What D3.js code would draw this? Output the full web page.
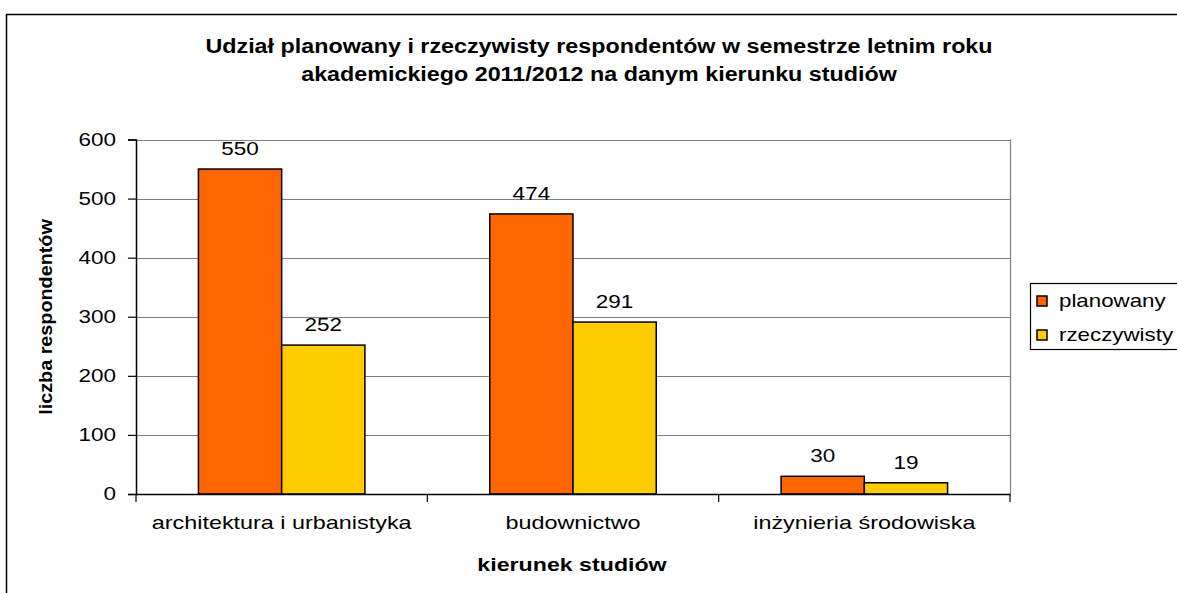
<!DOCTYPE html>
<html>
<head>
<meta charset="utf-8">
<script src="https://d3js.org/d3.v7.min.js"></script>
<style>
  body { margin: 0; background: #fff; }
  text { font-family: Arial, "Liberation Sans", sans-serif; fill: #000; }
  .bold { font-weight: bold; }
</style>
</head>
<body>
<div id="chart"></div>
<script>
// data
var categories = ["architektura i urbanistyka", "budownictwo", "inżynieria środowiska"];
var seriesNames = ["planowany", "rzeczywisty"];
var planowany = [550, 474, 30];
var rzeczywisty = [252, 291, 19];
var yTicks = [0, 100, 200, 300, 400, 500, 600];
var titleLines = ["Udział planowany i rzeczywisty respondentów w semestrze letnim roku",
  "akademickiego 2011/2012 na danym kierunku studiów"];
var xTitle = "kierunek studiów";
var yTitle = "liczba respondentów";

var colors = ["#ff6600", "#ffcc00"];
var W = 1177, H = 593;
var plot = { left: 136, right: 1010, top: 139.5, bottom: 494 };
var sx = 1.25; // text in the picture is drawn wider than normal

var svg = d3.select("#chart").append("svg")
  .attr("width", W)
  .attr("height", H);

// outer frame of the chart (runs off the right and bottom edge)
svg.append("rect")
  .attr("x", 6.5).attr("y", 14.5)
  .attr("width", 1300).attr("height", 700)
  .attr("fill", "none").attr("stroke", "#000").attr("stroke-width", 1.5);

function label(parent, x, y, str, size, anchor, bold, stretch) {
  var t = parent.append("g")
    .attr("transform", "translate(" + x + "," + y + ") scale(" + stretch + ",1)")
    .append("text")
    .attr("text-anchor", anchor)
    .style("font-size", size + "px")
    .text(str);
  if (bold) t.attr("class", "bold");
  return t;
}

var x = d3.scaleBand()
  .domain(categories)
  .range([plot.left, plot.right]);

var y = d3.scaleLinear()
  .domain([0, 600])
  .range([plot.bottom, plot.top]);

var barW = x.bandwidth() / 3.5;
var xs = d3.scaleBand()
  .domain(seriesNames)
  .range([0, barW * 2]);

// gridlines
svg.append("g")
  .selectAll("line")
  .data(yTicks.filter(d => d > 0))
  .enter().append("line")
  .attr("x1", plot.left).attr("x2", plot.right)
  .attr("y1", d => Math.round(y(d)) + 0.5).attr("y2", d => Math.round(y(d)) + 0.5)
  .attr("stroke", "#808080").attr("stroke-width", 1.2);

// right border of the plot area
svg.append("line")
  .attr("x1", plot.right + 0.5).attr("x2", plot.right + 0.5)
  .attr("y1", plot.top).attr("y2", plot.bottom)
  .attr("stroke", "#808080").attr("stroke-width", 1.2);

// bars
var rows = categories.map((c, i) => ({ cat: c, vals: [planowany[i], rzeczywisty[i]] }));
var groups = svg.append("g").selectAll("g")
  .data(rows)
  .enter().append("g")
  .attr("transform", d => "translate(" + (x(d.cat) + (x.bandwidth() - barW * 2) / 2) + ",0)");

groups.selectAll("rect")
  .data(d => d.vals.map((v, j) => ({ s: seriesNames[j], v: v, j: j })))
  .enter().append("rect")
  .attr("x", d => xs(d.s))
  .attr("y", d => y(d.v))
  .attr("width", xs.bandwidth())
  .attr("height", d => y(0) - y(d.v))
  .attr("fill", d => colors[d.j])
  .attr("stroke", "#000").attr("stroke-width", 1.5);

// value labels
groups.each(function(d) {
  var g = d3.select(this);
  d.vals.forEach(function(v, j) {
    label(g, xs(seriesNames[j]) + xs.bandwidth() / 2, y(v) - 14, String(v), 18, "middle", false, sx);
  });
});

// y axis
var yAxis = svg.append("g")
  .attr("transform", "translate(" + plot.left + ",0)")
  .call(d3.axisLeft(y).tickValues(yTicks).tickSize(8).tickFormat(""));
yAxis.select(".domain").attr("stroke", "#000").attr("stroke-width", 1.5);
yAxis.selectAll(".tick line").attr("stroke", "#000").attr("stroke-width", 1.2);
yTicks.forEach(function(t) {
  label(svg, 116, y(t) + 6, String(t), 18, "end", false, sx);
});

// x axis
var xAxis = svg.append("g")
  .attr("transform", "translate(0," + plot.bottom + ")")
  .call(d3.axisBottom(x).tickSize(0).tickSizeOuter(0).tickFormat(""));
xAxis.select(".domain").attr("stroke", "#000").attr("stroke-width", 1.5);
var bounds = categories.map(c => x(c)).concat([plot.right]);
xAxis.selectAll(".sep")
  .data(bounds)
  .enter().append("line")
  .attr("class", "sep")
  .attr("x1", d => d).attr("x2", d => d)
  .attr("y1", 0).attr("y2", 8)
  .attr("stroke", "#000").attr("stroke-width", 1.2);
categories.forEach(function(c) {
  label(svg, x(c) + x.bandwidth() / 2, 529, c, 18, "middle", false, 1.3);
});

// axis titles
label(svg, 572, 571, xTitle, 19, "middle", true, 1.22);
svg.append("g")
  .attr("transform", "translate(52,317) rotate(-90) scale(1.1,1)")
  .append("text")
  .attr("class", "bold")
  .attr("text-anchor", "middle")
  .style("font-size", "18px")
  .text(yTitle);

// chart title
titleLines.forEach(function(t, i) {
  label(svg, 599, 53 + i * 28, t, 21, "middle", true, 1.11);
});

// legend
var legend = svg.append("g");
legend.append("rect")
  .attr("x", 1030.5).attr("y", 283.5)
  .attr("width", 200).attr("height", 66)
  .attr("fill", "#fff").attr("stroke", "#000").attr("stroke-width", 1.2);
seriesNames.forEach(function(s, i) {
  legend.append("rect")
    .attr("x", 1037).attr("y", 296 + i * 34)
    .attr("width", 10).attr("height", 10)
    .attr("fill", colors[i]).attr("stroke", "#000").attr("stroke-width", 1.5);
  label(legend, 1059, 307 + i * 34, s, 18, "start", false, 1.24);
});
</script>
</body>
</html>
